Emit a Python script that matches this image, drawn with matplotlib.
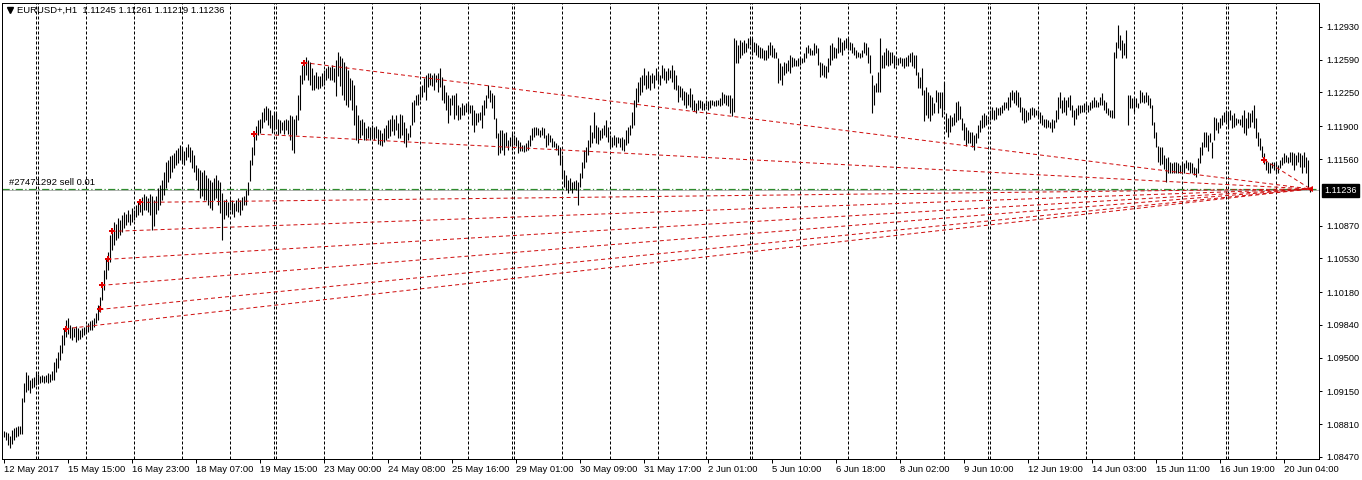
import matplotlib
matplotlib.use("Agg")
import matplotlib.pyplot as plt
import matplotlib.transforms as mtransforms
from datetime import datetime, timedelta

# ---------------- data ----------------
chart_title = "EURUSD+,H1  1.11245 1.11261 1.11219 1.11236"
order_label = "#27471292 sell 0.01"
first_bar_time = datetime(2017, 5, 12, 6)
label_every = 32

# hourly bar highs / lows in pips (price * 10000)
bar_high_pips = [
    10874,10873,10872,10869,10875,10877,10878,10879,10879,10908,
    10924,10935,10932,10927,10929,10930,10935,10933,10931,10932,
    10931,10932,10934,10933,10936,10945,10950,10956,10963,10974,
    10981,10989,10991,10984,10982,10981,10983,10981,10979,10981,
    10982,10984,10986,10988,10989,10991,10996,11005,11013,11027,
    11041,11053,11060,11077,11084,11091,11089,11095,11093,11098,
    11101,11099,11103,11099,11105,11103,11108,11111,11113,11117,
    11120,11118,11116,11120,11118,11113,11118,11126,11129,11134,
    11143,11153,11155,11159,11160,11162,11165,11167,11171,11168,
    11164,11168,11172,11168,11165,11160,11150,11147,11145,11143,
    11145,11139,11136,11134,11132,11136,11139,11134,11132,11121,
    11113,11115,11111,11115,11113,11110,11114,11116,11113,11117,
    11118,11124,11132,11155,11168,11181,11190,11196,11198,11205,
    11209,11211,11209,11207,11202,11205,11204,11198,11196,11194,
    11196,11198,11196,11202,11201,11198,11202,11222,11243,11253,
    11259,11262,11259,11257,11250,11243,11246,11242,11242,11245,
    11248,11250,11252,11251,11254,11250,11259,11267,11263,11261,
    11257,11252,11248,11240,11238,11233,11212,11202,11196,11198,
    11194,11188,11190,11189,11191,11189,11190,11187,11186,11183,
    11188,11191,11196,11198,11202,11198,11202,11193,11203,11202,
    11194,11188,11183,11191,11215,11217,11222,11223,11231,11233,
    11240,11243,11245,11245,11243,11245,11243,11245,11250,11241,
    11233,11226,11222,11219,11222,11222,11224,11212,11210,11214,
    11212,11214,11215,11212,11212,11207,11204,11204,11205,11212,
    11217,11222,11233,11228,11224,11222,11199,11183,11186,11186,
    11183,11184,11176,11179,11183,11181,11179,11176,11174,11171,
    11171,11173,11176,11181,11188,11189,11189,11188,11186,11189,
    11188,11181,11183,11181,11178,11175,11173,11171,11168,11160,
    11145,11139,11134,11136,11132,11133,11134,11132,11141,11153,
    11165,11168,11176,11191,11184,11205,11191,11189,11186,11188,
    11191,11196,11189,11181,11179,11181,11179,11179,11178,11179,
    11177,11186,11189,11191,11205,11217,11230,11236,11241,11243,
    11250,11243,11247,11243,11245,11243,11250,11245,11243,11254,
    11250,11247,11250,11248,11254,11248,11243,11233,11232,11230,
    11227,11225,11223,11230,11223,11217,11214,11217,11217,11216,
    11214,11217,11216,11217,11217,11216,11217,11217,11219,11225,
    11223,11222,11222,11222,11219,11282,11279,11274,11279,11277,
    11279,11276,11282,11281,11281,11277,11276,11274,11272,11271,
    11269,11269,11274,11277,11274,11271,11267,11261,11256,11252,
    11257,11256,11259,11264,11262,11261,11259,11261,11262,11261,
    11266,11272,11274,11271,11269,11276,11274,11271,11257,11256,
    11254,11252,11261,11274,11276,11272,11271,11283,11282,11277,
    11279,11281,11281,11277,11276,11272,11269,11267,11266,11269,
    11277,11276,11272,11264,11243,11233,11235,11246,11281,11264,
    11267,11271,11269,11267,11267,11264,11262,11261,11262,11261,
    11261,11262,11264,11266,11267,11264,11264,11246,11241,11250,
    11228,11231,11225,11222,11220,11214,11228,11226,11225,11226,
    11236,11204,11199,11202,11200,11204,11215,11216,11211,11199,
    11193,11189,11186,11184,11184,11181,11183,11191,11196,11202,
    11204,11202,11198,11207,11210,11207,11210,11209,11210,11212,
    11215,11215,11220,11225,11228,11226,11228,11225,11220,11210,
    11209,11207,11205,11209,11210,11209,11207,11207,11205,11202,
    11198,11198,11196,11194,11198,11196,11207,11220,11225,11217,
    11220,11217,11220,11222,11212,11207,11209,11212,11212,11212,
    11214,11214,11212,11215,11217,11220,11217,11215,11220,11224,
    11217,11215,11209,11207,11207,11267,11277,11295,11285,11279,
    11276,11290,11222,11222,11219,11220,11219,11214,11228,11225,
    11222,11225,11222,11219,11212,11194,11184,11170,11168,11168,
    11160,11157,11158,11153,11152,11153,11153,11152,11150,11153,
    11152,11155,11153,11153,11152,11148,11147,11157,11168,11174,
    11184,11184,11181,11183,11174,11200,11199,11194,11199,11202,
    11205,11207,11205,11207,11202,11204,11199,11198,11198,11202,
    11207,11199,11205,11204,11207,11212,11199,11184,11178,11170,
    11162,11155,11153,11152,11153,11153,11152,11150,11155,11158,
    11162,11160,11158,11163,11163,11162,11160,11163,11162,11160,
    11163,11158,11155,11126.1,
]
bar_low_pips = [
    10868,10865,10859,10856,10860,10865,10868,10869,10871,10871,
    10904,10914,10916,10913,10919,10920,10922,10923,10924,10925,
    10924,10925,10924,10925,10927,10927,10935,10939,10948,10955,
    10963,10971,10975,10970,10968,10971,10966,10968,10969,10971,
    10974,10976,10977,10979,10979,10982,10986,10989,10997,11010,
    11020,11032,11041,11049,11062,11067,11072,11074,11077,11080,
    11084,11088,11091,11088,11091,11093,11096,11098,11101,11098,
    11103,11103,11101,11098,11082,11087,11099,11103,11108,11113,
    11119,11126,11132,11136,11143,11147,11150,11152,11155,11152,
    11150,11155,11158,11153,11147,11143,11134,11124,11116,11118,
    11113,11113,11108,11105,11103,11113,11116,11108,11100,11072,
    11094,11098,11096,11103,11099,11096,11102,11101,11098,11103,
    11108,11108,11119,11133,11150,11160,11176,11181,11183,11188,
    11194,11196,11191,11188,11183,11186,11188,11181,11183,11186,
    11182,11186,11182,11176,11165,11162,11181,11196,11207,11234,
    11238,11243,11238,11233,11228,11228,11230,11229,11230,11232,
    11233,11238,11240,11238,11238,11236,11221,11242,11232,11222,
    11217,11212,11210,11217,11207,11191,11176,11173,11178,11181,
    11176,11176,11178,11176,11179,11176,11178,11172,11171,11169,
    11174,11176,11178,11180,11185,11181,11186,11178,11178,11181,
    11173,11168,11176,11179,11191,11194,11212,11212,11217,11220,
    11225,11217,11231,11233,11232,11228,11236,11226,11231,11217,
    11214,11207,11193,11202,11212,11198,11202,11196,11198,11202,
    11202,11205,11205,11204,11191,11184,11191,11194,11196,11188,
    11202,11209,11219,11215,11209,11198,11178,11160,11162,11165,
    11160,11169,11165,11169,11165,11171,11169,11162,11164,11164,
    11163,11164,11165,11169,11176,11179,11181,11181,11179,11181,
    11178,11168,11171,11174,11168,11168,11165,11160,11150,11136,
    11127,11124,11121,11124,11121,11125,11124,11108,11127,11136,
    11147,11153,11160,11168,11173,11178,11173,11172,11176,11178,
    11181,11179,11174,11168,11168,11171,11168,11173,11168,11165,
    11164,11171,11173,11181,11188,11191,11210,11215,11222,11225,
    11233,11229,11230,11228,11235,11230,11238,11236,11233,11240,
    11238,11235,11238,11240,11236,11229,11228,11215,11220,11217,
    11212,11209,11212,11210,11207,11206,11204,11207,11209,11207,
    11207,11211,11207,11209,11212,11211,11211,11212,11211,11212,
    11214,11212,11211,11204,11201,11205,11256,11256,11261,11264,
    11266,11267,11271,11274,11264,11267,11264,11262,11261,11261,
    11259,11259,11261,11264,11262,11261,11261,11235,11238,11233,
    11243,11245,11247,11245,11251,11252,11252,11252,11254,11256,
    11257,11261,11266,11264,11264,11264,11266,11254,11241,11243,
    11241,11240,11246,11254,11259,11261,11261,11266,11267,11264,
    11269,11271,11269,11269,11266,11264,11261,11262,11261,11262,
    11266,11264,11256,11245,11204,11212,11225,11225,11225,11250,
    11250,11254,11252,11254,11256,11250,11254,11254,11256,11252,
    11250,11252,11252,11257,11252,11250,11243,11230,11230,11222,
    11195,11202,11199,11195,11202,11204,11215,11204,11209,11200,
    11207,11184,11179,11184,11190,11191,11194,11196,11198,11186,
    11176,11170,11173,11173,11168,11165,11173,11178,11184,11188,
    11189,11191,11193,11196,11198,11196,11198,11202,11202,11204,
    11207,11209,11207,11210,11217,11214,11212,11210,11205,11196,
    11193,11194,11196,11198,11202,11200,11202,11200,11193,11191,
    11189,11188,11189,11188,11184,11188,11194,11198,11209,11204,
    11205,11202,11210,11207,11200,11191,11198,11202,11204,11205,
    11205,11207,11205,11207,11209,11210,11210,11210,11212,11212,
    11207,11204,11202,11200,11199,11199,11261,11271,11269,11261,
    11264,11261,11191,11209,11209,11205,11210,11209,11214,11215,
    11214,11215,11212,11209,11191,11178,11168,11153,11150,11151,
    11146,11132,11142,11141,11142,11141,11142,11141,11142,11142,
    11142,11147,11145,11142,11141,11139,11137,11142,11152,11160,
    11168,11168,11164,11174,11157,11176,11186,11183,11188,11191,
    11194,11194,11188,11196,11188,11189,11191,11193,11191,11189,
    11183,11181,11188,11189,11194,11188,11178,11170,11165,11158,
    11151,11145,11142,11142,11147,11145,11142,11141,11147,11150,
    11152,11153,11152,11153,11150,11145,11150,11153,11148,11141,
    11148,11141,11126,11121.9,
]

price_ticks = [1.12930, 1.12590, 1.12250, 1.11900, 1.11560, 1.10870, 1.10530,
               1.10180, 1.09840, 1.09500, 1.09150, 1.08810, 1.08470]
bid_price = 1.11236
order_price = 1.1125

trade_open_bar = [31, 48, 49, 52, 54, 68, 125, 150, 630]
trade_open_price = [1.0980, 1.1000, 1.1025, 1.1052, 1.1081, 1.1111, 1.1182, 1.1256, 1.1155]
trade_close_bar = 653
trade_close_price = 1.1125

# ---------------- derived ----------------
n_bars = len(bar_high_pips)
highs = [h / 10000 for h in bar_high_pips]
lows = [l / 10000 for l in bar_low_pips]

# broker hourly timeline: Mon-Thu full days, Friday until 21:00, one Sunday 23:00 bar
bar_times = []
t = first_bar_time
while len(bar_times) < n_bars:
    wd = t.weekday()
    if wd <= 3 or (wd == 4 and t.hour <= 21) or (wd == 6 and t.hour == 23):
        bar_times.append(t)
    t += timedelta(hours=1)

day_start_bars = [j for j in range(1, n_bars)
                  if bar_times[j].date() != bar_times[j - 1].date()]

label_bars = list(range(0, n_bars, label_every))
label_texts = []
for j in label_bars:
    bt = bar_times[j]
    if j == 0:
        label_texts.append(f"{bt.day} {bt.strftime('%b %Y')}")
    else:
        label_texts.append(f"{bt.day} {bt.strftime('%b %H:%M')}")

# ---------------- drawing ----------------
W, H = 1362, 480
fig = plt.figure(figsize=(W / 100, H / 100), dpi=100)
fig.patch.set_facecolor("white")
ax = fig.add_axes([2 / W, 21 / H, 1317 / W, 456 / H])
ax.set_facecolor("white")
ax.set_xlim(-0.75, 657.25)
ax.set_ylim(1.08449, 1.13178)

FONT = "Liberation Sans"
px = 0.72  # one pixel in points

# day separators
for j in day_start_bars:
    ax.axvline(j, color="black", lw=px, linestyle=(0, (3, 2)), zorder=1)

# bid line and order line
ax.axhline(bid_price, color="#b4b4b4", lw=px, zorder=2)
ax.axhline(order_price, color="#2e8b2e", lw=px * 1.2, linestyle=(0, (6, 2, 1, 2)), zorder=2)

# bars
ax.vlines(range(n_bars), lows, highs, color="black", lw=px * 1.1, zorder=3)

# trade history lines
for ob, op in zip(trade_open_bar, trade_open_price):
    ax.plot([ob, trade_close_bar], [op, trade_close_price], color="#d01010",
            lw=px, linestyle=(0, (4, 3)), zorder=4)
ax.plot(trade_open_bar, trade_open_price, linestyle="none", marker="P",
        color="#e00000", markersize=4.5, markeredgewidth=0, zorder=5)
ax.plot([trade_close_bar], [trade_close_price], linestyle="none", marker="<",
        color="#e00000", markersize=4, markeredgewidth=0, zorder=5)

# axes styling
for s in ax.spines.values():
    s.set_color("black")
    s.set_linewidth(px)

ax.yaxis.tick_right()
ax.set_yticks(price_ticks)
ax.set_yticklabels([f"{v:.5f}" for v in price_ticks], fontfamily=FONT, fontsize=6.6)
ax.tick_params(axis="y", direction="out", length=2.5, width=px, pad=2.5, colors="black")

ax.set_xticks(label_bars)
ax.set_xticklabels(label_texts, fontfamily=FONT, fontsize=6.8)
for lbl in ax.get_xticklabels():
    lbl.set_horizontalalignment("left")
ax.tick_params(axis="x", direction="out", length=3, width=px, pad=1.5, colors="black")

# current price box
blend = mtransforms.blended_transform_factory(ax.transAxes, ax.transData)
box_tr = mtransforms.offset_copy(blend, fig=fig, x=5, y=0, units="dots")
ax.text(1.0, bid_price, f"{bid_price:.5f}", transform=box_tr, ha="left", va="center",
        color="white", fontfamily=FONT, fontsize=6.6, clip_on=False,
        bbox=dict(facecolor="black", edgecolor="black", pad=1.6), zorder=10)

# order label
lbl_tr = mtransforms.offset_copy(blend, fig=fig, x=0, y=2, units="dots")
ax.text(7 / 1317, order_price, order_label, transform=lbl_tr, ha="left", va="bottom",
        color="black", fontfamily=FONT, fontsize=6.8, zorder=6)

# title with triangle
ax.plot([0.0057], [0.985], marker="v", color="black", markersize=4.5,
        transform=ax.transAxes, clip_on=False, zorder=6)
ax.text(15 / 1317, 0.985, chart_title, transform=ax.transAxes, ha="left", va="center",
        color="black", fontfamily=FONT, fontsize=6.8, zorder=6)

fig.savefig("out.png", dpi=100, facecolor="white")
